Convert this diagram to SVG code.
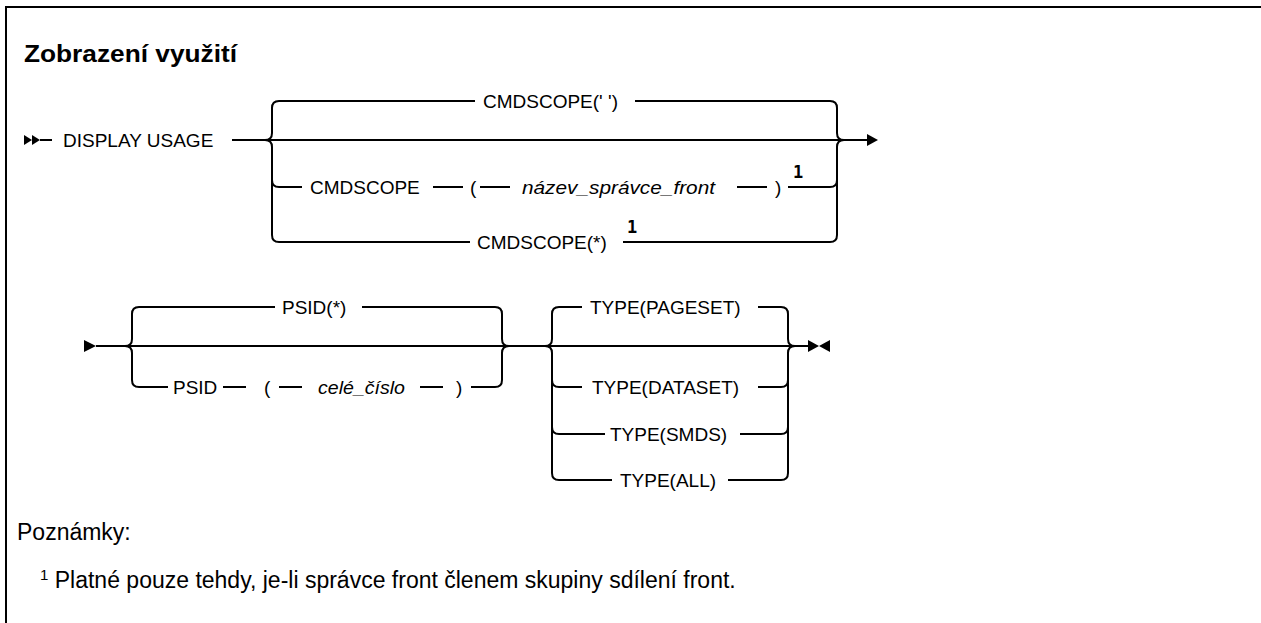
<svg xmlns="http://www.w3.org/2000/svg" width="1261" height="623" viewBox="0 0 1261 623">
<defs>
<style>
.t{font-family:"Liberation Sans",Arial,sans-serif;font-size:19px;fill:#000}
.i{font-style:italic}
.title{font-family:"Liberation Sans",Arial,sans-serif;font-size:24px;font-weight:bold;fill:#000}
.note{font-family:"Liberation Sans",Arial,sans-serif;font-size:23px;fill:#000}
.sup{font-family:"DejaVu Sans Mono",monospace;font-size:17px;font-weight:bold;fill:#000}
.ln{fill:none;stroke:#000;stroke-width:2}
.ar{fill:#000}
</style>
</defs>
<rect width="1261" height="623" fill="#fff"/>
<path class="ln" d="M6 623 L6 7 L1261 7"/>
<text class="title" x="24" y="62" textLength="213" lengthAdjust="spacingAndGlyphs">Zobrazení využití</text>

<g id="connectors">
<path class="ln" d="M40 140 L52 140"/>
<path class="ln" d="M232 140 L867 140"/>
<path class="ln" d="M265 140 Q272 140 272 133 L272 108 Q272 101 279 101 L475 101"/>
<path class="ln" d="M635 101 L830 101 Q837 101 837 108 L837 133 Q837 140 844 140"/>
<path class="ln" d="M265 140 Q272 140 272 147 L272 235 Q272 242 279 242 L470 242"/>
<path class="ln" d="M272 180 Q272 187 279 187 L302 187"/>
<path class="ln" d="M433 187 L463 187 M480 187 L510 187 M737 187 L767 187"/>
<path class="ln" d="M788 187 L830 187 Q837 187 837 180"/>
<path class="ln" d="M623 242 L830 242 Q837 242 837 235 L837 147 Q837 140 844 140"/>
<polygon class="ar" points="24,135 32,140 24,145"/>
<polygon class="ar" points="32,135 40,140 32,145"/>
<polygon class="ar" points="867,134 878,140 867,146"/>

<polygon class="ar" points="84,340 96,346 84,352"/>
<path class="ln" d="M96 346 L808 346"/>
<path class="ln" d="M125 346 Q132 346 132 339 L132 314 Q132 307 139 307 L275 307"/>
<path class="ln" d="M362 307 L495 307 Q502 307 502 314 L502 339 Q502 346 509 346"/>
<path class="ln" d="M125 346 Q132 346 132 353 L132 380 Q132 387 139 387 L168 387"/>
<path class="ln" d="M223 387 L246 387 M279 387 L302 387 M420 387 L443 387"/>
<path class="ln" d="M471 387 L495 387 Q502 387 502 380 L502 353 Q502 346 509 346"/>
<path class="ln" d="M545 346 Q552 346 552 339 L552 314 Q552 307 559 307 L582 307"/>
<path class="ln" d="M758 307 L781 307 Q788 307 788 314 L788 339 Q788 346 795 346"/>
<path class="ln" d="M545 346 Q552 346 552 353 L552 473 Q552 480 559 480 L612 480"/>
<path class="ln" d="M552 380 Q552 387 559 387 L582 387 M552 427 Q552 434 559 434 L605 434"/>
<path class="ln" d="M758 387 L781 387 Q788 387 788 380 M740 434 L781 434 Q788 434 788 427"/>
<path class="ln" d="M728 480 L781 480 Q788 480 788 473 L788 353 Q788 346 795 346"/>
<polygon class="ar" points="808,340 819,346 808,352"/>
<polygon class="ar" points="830,340 819,346 830,352"/>
</g>

<g id="n-display"><text class="t" x="63" y="147">DISPLAY USAGE</text></g>
<g id="n-cmdscope-blank"><text class="t" x="483" y="108">CMDSCOPE(' ')</text></g>
<g id="n-cmdscope-qmgr">
<text class="t" x="310" y="194">CMDSCOPE</text>
<text class="t" x="470" y="194">(</text>
<text class="t i" x="522" y="194" textLength="193" lengthAdjust="spacingAndGlyphs">název_správce_front</text>
<text class="t" x="775" y="194">)</text>
<text class="sup" x="793" y="178">1</text>
</g>
<g id="n-cmdscope-star">
<text class="t" x="477" y="249">CMDSCOPE(*)</text>
<text class="sup" x="627" y="233">1</text>
</g>
<g id="n-psid-star"><text class="t" x="282" y="314">PSID(*)</text></g>
<g id="n-psid-num">
<text class="t" x="173" y="394">PSID</text>
<text class="t" x="264" y="394">(</text>
<text class="t i" x="318" y="394" textLength="87" lengthAdjust="spacingAndGlyphs">celé_číslo</text>
<text class="t" x="456" y="394">)</text>
</g>
<g id="n-type-pageset"><text class="t" x="590" y="314">TYPE(PAGESET)</text></g>
<g id="n-type-dataset"><text class="t" x="592" y="394">TYPE(DATASET)</text></g>
<g id="n-type-smds"><text class="t" x="610" y="441">TYPE(SMDS)</text></g>
<g id="n-type-all"><text class="t" x="620" y="487">TYPE(ALL)</text></g>

<g id="notes">
<text class="note" x="17" y="540">Poznámky:</text>
<text class="note" x="40" y="588"><tspan font-size="15" dy="-8">1</tspan><tspan dy="8"> Platné pouze tehdy, je-li správce front členem skupiny sdílení front.</tspan></text>
</g>
</svg>
